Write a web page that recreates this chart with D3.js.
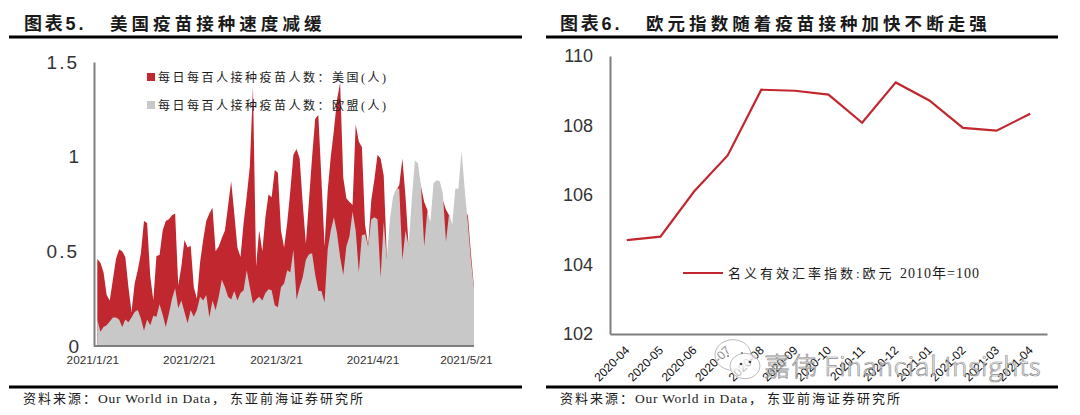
<!DOCTYPE html>
<html><head><meta charset="utf-8">
<script src="https://cdn.jsdelivr.net/npm/d3@7/dist/d3.min.js"></script>
<style>
html,body{margin:0;padding:0;background:#fff;overflow:hidden}
svg{display:block}
text{font-family:"Liberation Sans",Arial,sans-serif;fill:#1a1a1a}
.cjk{font-family:"Liberation Serif","Noto Sans CJK SC",serif}
.domain{stroke:#7f7f7f;stroke-width:2}
</style></head><body>
<svg id="c" width="1080" height="415"></svg>
<script>
const usDaily=[.46,.44,.39,.27,.24,.35,.46,.51,.50,.47,.31,.18,.33,.40,.49,.66,.65,.37,.24,.475,
.48,.61,.66,.67,.69,.70,.32,.42,.56,.52,.53,.31,.25,.44,.56,.66,.70,.73,.50,.525,
.57,.61,.74,.87,.70,.52,.47,.65,.79,.95,1.37,.42,.61,.50,.68,.80,.785,.93,.915,.61,
.52,.65,.82,1.01,1.04,.99,.75,.54,.77,1.00,1.20,1.22,.88,.525,.82,1.00,1.14,1.30,1.39,.89,
.78,.76,.745,1.17,1.08,1.05,.64,.53,.77,.88,1.01,.99,.90,.47,.47,.61,.82,.85,.99,.79,
.525,.65,.82,.91,.84,.76,.72,.61,.75,.74,.70,.77,.72,.69,.61,.77,.79,.82,.65,.70,.49,.31];
const euDaily=[.14,.075,.10,.11,.13,.15,.15,.14,.10,.14,.125,.15,.18,.19,.145,.08,.14,.11,.16,.155,
.22,.165,.10,.17,.25,.305,.20,.24,.18,.12,.19,.155,.19,.26,.24,.27,.15,.24,.19,.26,
.35,.31,.26,.245,.29,.24,.28,.295,.40,.31,.225,.245,.26,.24,.28,.30,.295,.215,.205,.31,
.33,.40,.39,.51,.245,.31,.365,.455,.485,.49,.375,.29,.29,.23,.51,.61,.68,.595,.47,.375,
.525,.58,.71,.61,.39,.585,.59,.525,.67,.68,.67,.36,.655,.46,.67,.79,.83,.83,.455,.61,
.53,.77,.98,.965,.84,.525,.71,.655,.86,.875,.87,.805,.55,.70,.64,.83,.83,1.03,.83,.655,.455,.305];
const vaccineStart="2021-01-21";
const vaccineTicks=["2021-01-21","2021-02-21","2021-03-21","2021-04-21","2021-05-21"];
const vaccineYTicks=[0,.5,1,1.5];
const months=["2020-04","2020-05","2020-06","2020-07","2020-08","2020-09","2020-10","2020-11","2020-12","2021-01","2021-02","2021-03","2021-04"];
const euroIndex=[104.7,104.8,106.1,107.14,109.03,109.0,108.89,108.08,109.24,108.72,107.93,107.85,108.34];
const euroYTicks=[102,104,106,108,110];
const RED="#c1272f",GRAY="#c8c8c8";

const svg=d3.select("#c");
const parse=d3.utcParse("%Y-%m-%d");
const t0=parse(vaccineStart);
const dates=usDaily.map((_,i)=>d3.utcDay.offset(t0,i));

// left
const x1=d3.scaleUtc().domain([t0,dates[dates.length-1]]).range([97.3,474]);
const y1=d3.scaleLinear().domain([0,1.5]).range([346,62]);
const area=vals=>d3.area().x((_,i)=>x1(dates[i])).y0(y1(0)).y1(v=>y1(v))(vals);
svg.append("path").attr("d",area(usDaily)).attr("fill",RED);
svg.append("path").attr("d",area(euDaily)).attr("fill",GRAY);

const yA1=svg.append("g").attr("transform","translate(94,0)")
  .call(d3.axisLeft(y1).tickValues(vaccineYTicks).tickFormat(d3.format("~g")).tickSize(0).tickPadding(15));
yA1.selectAll("text").style("font-size","19px").style("letter-spacing",d=>d%1?"2px":"0").style("fill","#333");
const xA1=svg.append("g").attr("transform","translate(0,346)")
  .call(d3.axisBottom(x1).tickValues(vaccineTicks.map(parse)).tickFormat(d3.utcFormat("%Y/%-m/%-d")).tickSize(0).tickPadding(0));
xA1.select(".domain").attr("d","M94,0H474");
xA1.selectAll("text").attr("dx",-5).attr("dy",17.5).style("font-size","11.8px").style("fill","#333");

// right
const x2=d3.scalePoint().domain(months).range([610,1047]).padding(.5);
const y2=d3.scaleLinear().domain([102,110]).range([334,56]);
const yA2=svg.append("g").attr("transform","translate(610,0)")
  .call(d3.axisLeft(y2).tickValues(euroYTicks).tickSize(0).tickPadding(17));
yA2.selectAll("text").style("font-size","18px").style("fill","#333");
const xA2=svg.append("g").attr("transform","translate(0,334)")
  .call(d3.axisBottom(x2).tickSize(0));
xA2.selectAll("text").attr("text-anchor","end").attr("dy",0).attr("y",0)
  .attr("transform","translate(3,17) rotate(-45)").style("font-size","12px").style("fill","#111");
svg.append("path").attr("fill","none").attr("stroke",RED).attr("stroke-width",2.2)
  .attr("d",d3.line().x((_,i)=>x2(months[i])).y(v=>y2(v))(euroIndex));

// legends
const txt=(x,y,s,size,ls,weight)=>svg.append("text").attr("class","cjk").attr("x",x).attr("y",y).text(s)
  .style("font-size",size+"px").style("letter-spacing",ls+"px").style("font-weight",weight||400);
svg.append("rect").attr("x",147).attr("y",73).attr("width",8).attr("height",8).attr("fill",RED);
txt(158,81.5,"每日每百人接种疫苗人数：美国(人)",12,2.5);
svg.append("rect").attr("x",147).attr("y",101).attr("width",8).attr("height",8).attr("fill",GRAY);
txt(158,109.5,"每日每百人接种疫苗人数：欧盟(人)",12,2.5);
svg.append("line").attr("x1",683).attr("x2",723).attr("y1",273).attr("y2",273).attr("stroke",RED).attr("stroke-width",2);
txt(728,278,"名义有效汇率指数:欧元",13,3);
txt(900,278,"2010年=100",14,1);

// titles, rules, sources
[[9,522,24,"图表5.","美国疫苗接种速度减缓",110],[546,1058,560,"图表6.","欧元指数随着疫苗接种加快不断走强",646]].forEach(p=>{
  svg.append("line").attr("x1",p[0]).attr("x2",p[1]).attr("y1",37).attr("y2",37).attr("stroke","#000").attr("stroke-width",3);
  svg.append("line").attr("x1",p[0]).attr("x2",p[1]).attr("y1",387).attr("y2",387).attr("stroke","#000").attr("stroke-width",3);
  txt(p[2],30,p[3],18,2.8,700).style("font-family",'"Liberation Sans","Noto Sans CJK SC",sans-serif');
  txt(p[5],30,p[4],17.5,4.05,700).style("font-family",'"Noto Sans CJK SC",sans-serif');
  const sx=p[0]+14;
  txt(sx,403,"资料来源：",13,2);
  txt(sx+75,403,"Our World in Data",13.5,.75);
  txt(sx+189,403,"，",13,0);
  txt(sx+207,403,"东亚前海证券研究所",13,2);
});

// watermark
const wm=svg.append("g");
wm.append("text").attr("x",764).attr("y",376).text("嘉伟 Financial Insights")
  .style("font-family",'"Noto Sans CJK SC",sans-serif').style("font-size","26.2px").style("font-weight",300).style("letter-spacing",".7px")
  .style("fill","#fff").style("fill-opacity",.55).style("stroke","#8a8a8a").style("stroke-width",.7);
const bubble=(cx,cy,r,o)=>wm.append("ellipse").attr("cx",cx).attr("cy",cy).attr("rx",r).attr("ry",r*.85)
  .attr("fill","#fff").attr("fill-opacity",o).attr("stroke","#bbb").attr("stroke-width",1);
bubble(733,355,18,.5); bubble(745,366,15,.7);
[[741,364],[750,362]].forEach(d=>wm.append("circle").attr("cx",d[0]).attr("cy",d[1]).attr("r",1.3).attr("fill","#444"));
[[722,354],[736,351]].forEach(d=>wm.append("circle").attr("cx",d[0]+6).attr("cy",d[1]+2).attr("r",1).attr("fill","#777"));
</script></body></html>
